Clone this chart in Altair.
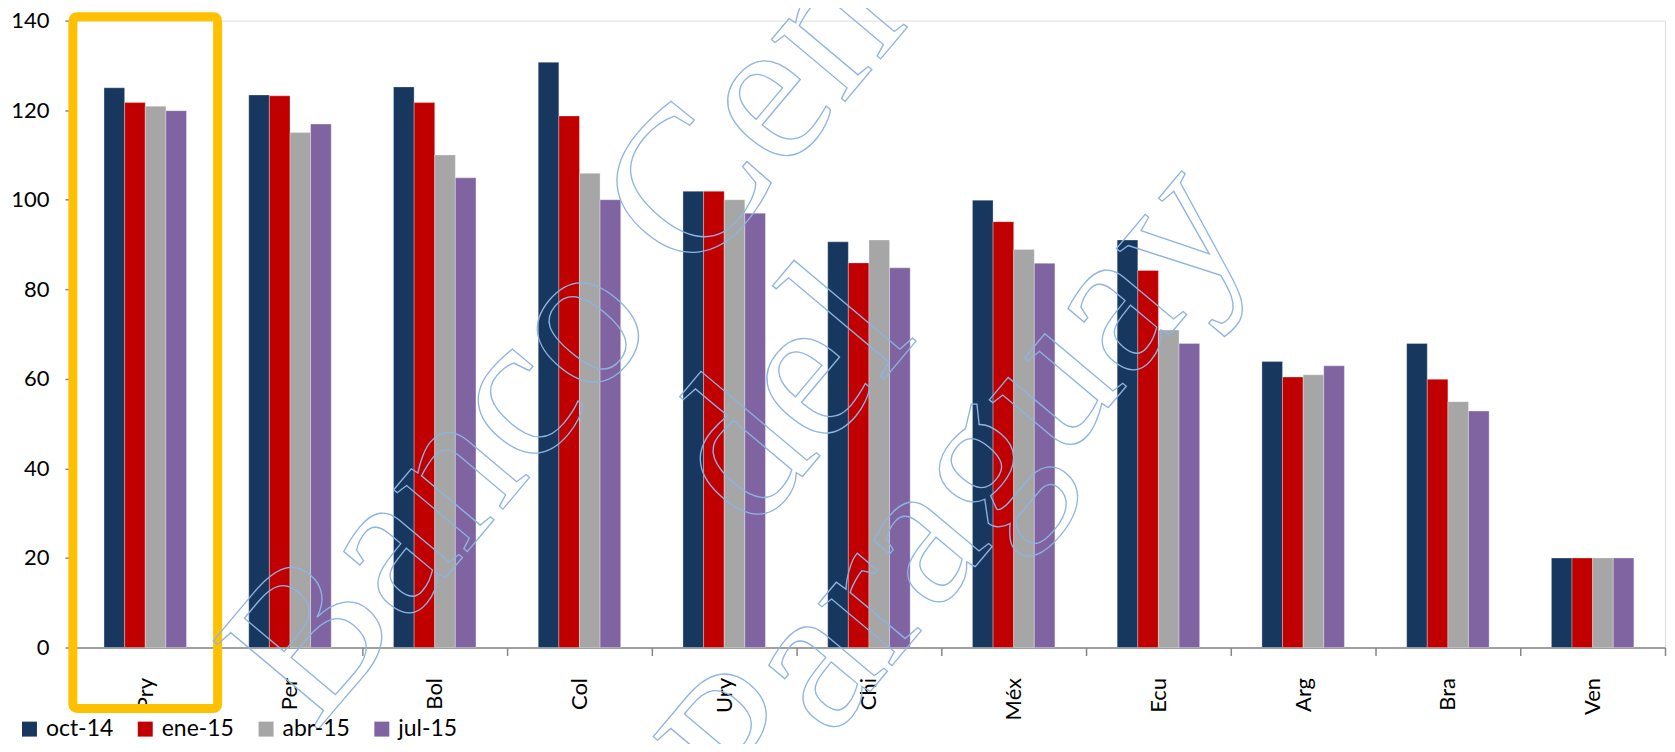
import altair as alt
import pandas as pd

cats = ["Pry", "Per", "Bol", "Col", "Ury", "Chi", "Méx", "Ecu", "Arg", "Bra", "Ven"]
series = ["oct-14", "ene-15", "abr-15", "jul-15"]
oct14 = [125.0, 123.4, 125.2, 130.7, 101.9, 90.6, 99.9, 91.0, 63.9, 67.9, 20.0]
ene15 = [121.7, 123.2, 121.7, 118.7, 101.9, 85.9, 95.1, 84.2, 60.4, 59.9, 20.0]
abr15 = [120.9, 115.0, 110.0, 105.9, 100.0, 91.0, 88.9, 70.9, 60.9, 54.9, 20.0]
jul15 = [119.9, 116.9, 104.9, 100.0, 97.0, 84.8, 85.8, 67.9, 62.9, 52.8, 20.0]
colors = ["#17375E", "#C00000", "#A6A6A6", "#8064A2"]
highlight = ["Pry"]
watermark = ["Banco Central", "del", "Paraguay"]

rows = []
for s, vals in zip(series, [oct14, ene15, abr15, jul15]):
    for c, v in zip(cats, vals):
        rows.append({"pais": c, "serie": s, "valor": v})
df = pd.DataFrame(rows)

FONT = "Lato"
SERIF = "Liberation Serif, DejaVu Serif, Times New Roman, serif"

xscale = alt.Scale(domain=cats, paddingInner=0, paddingOuter=0)
# empty slots on either side of the four bars give the gap between groups
offset_domain = ["_l"] + series + ["_r"]

bars = alt.Chart(df).mark_bar(stroke="white", strokeWidth=0.6, strokeOpacity=0.5).encode(
    x=alt.X("pais:N", scale=xscale, sort=cats, title=None,
            axis=alt.Axis(labelAngle=270, labelFontSize=22, labelFont=FONT, labelColor="black",
                          tickBand="extent", tickSize=8, tickColor="#868686", tickWidth=1.5,
                          domainColor="#868686", domainWidth=1.5, labelPadding=22)),
    xOffset=alt.XOffset("serie:N",
                        scale=alt.Scale(domain=offset_domain, paddingInner=0, paddingOuter=0.51)),
    y=alt.Y("valor:Q", scale=alt.Scale(domain=[0, 140]), title=None,
            axis=alt.Axis(values=[0, 20, 40, 60, 80, 100, 120, 140], grid=False,
                          labelFontSize=22, labelFont=FONT, labelColor="black",
                          tickSize=8, tickColor="#868686", tickWidth=1.5,
                          domainColor="#868686", domainWidth=1.5, labelPadding=16)),
    color=alt.Color("serie:N", sort=series,
                    scale=alt.Scale(domain=series, range=colors),
                    legend=alt.Legend(title=None, orient="none", direction="horizontal",
                                      legendX=-55, legendY=698,
                                      symbolType="square", symbolSize=225, symbolStrokeWidth=0,
                                      symbolOpacity=1,
                                      labelFontSize=23, labelFont=FONT, labelColor="black",
                                      labelOffset=5, columnPadding=20)),
)

box = alt.Chart(pd.DataFrame({"pais": highlight})).mark_rect(
    fillOpacity=0, stroke="#FFC000", strokeWidth=9, cornerRadius=4
).encode(
    x=alt.X("pais:N", scale=xscale, sort=cats),
    y=alt.value(-4),
    y2=alt.value(689),
)

wm_pos = [(630, 252), (765, 416), (934, 511)]
wm_layers = []
for line, (px, py) in zip(watermark, wm_pos):
    wm_layers.append(
        alt.Chart(pd.DataFrame({"t": [line]})).mark_text(
            font=SERIF, fontSize=210, angle=310, align="center",
            baseline="alphabetic", fillOpacity=0, stroke="#8DB4E2", strokeWidth=1.3
        ).encode(x=alt.value(px), y=alt.value(py), text="t:N")
    )

chart = alt.layer(bars, box, *wm_layers).properties(
    width=1595, height=628,
    autosize=alt.AutoSizeParams(type="none"),
    padding={"left": 65, "top": 12, "right": 2, "bottom": 96},
).configure_view(stroke=None).configure(background="white")

chart.save("out.html", embed_options={"renderer": "svg", "actions": False})
